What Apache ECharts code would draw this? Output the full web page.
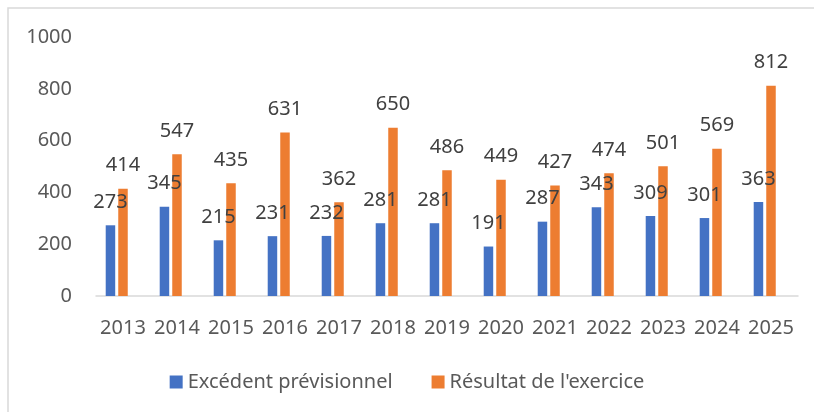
<!DOCTYPE html>
<html>
<head>
<meta charset="utf-8">
<script src="https://cdn.jsdelivr.net/npm/echarts@6/dist/echarts.min.js"></script>
<style>
  html, body { margin: 0; padding: 0; background: #fff; }
  #chart { width: 814px; height: 412px; }
</style>
</head>
<body>
<div id="chart"></div>
<script>
// chart data
const years = ['2013', '2014', '2015', '2016', '2017', '2018', '2019', '2020', '2021', '2022', '2023', '2024', '2025']
const excedentPrev = [273, 345, 215, 231, 232, 281, 281, 191, 287, 343, 309, 301, 363]
const resultatExercice = [414, 547, 435, 631, 362, 650, 486, 449, 427, 474, 501, 569, 812]
const yTicks = [0, 200, 400, 600, 800, 1000]

const fontFamily = '"Noto Sans", sans-serif'

const chart = echarts.init(document.getElementById('chart'))

const labelStyle = {
  show: true,
  position: 'top',
  distance: 13,
  color: '#404040',
  fontSize: 20,
  fontFamily: fontFamily
}

chart.setOption({
  animation: false,
  graphic: [{
    type: 'rect',
    shape: { x: 8, y: 8, width: 840, height: 440 },
    style: { fill: 'none', stroke: '#d9d9d9', lineWidth: 1.5 },
    silent: true
  }],
  legend: {
    data: ['Excédent prévisionnel', "Résultat de l'exercice"],
    bottom: 15,
    left: 'center',
    itemWidth: 13,
    itemHeight: 13,
    itemGap: 39,
    icon: 'rect',
    textStyle: { color: '#595959', fontSize: 20, fontFamily: fontFamily }
  },
  grid: {
    left: 96,
    right: 16,
    top: 37,
    bottom: 116,
    containLabel: false
  },
  xAxis: {
    type: 'category',
    data: years,
    axisLine: { lineStyle: { color: '#d9d9d9', width: 1.5 } },
    axisTick: { show: false },
    axisLabel: { interval: 0, color: '#595959', fontSize: 20, fontFamily: fontFamily, margin: 22 }
  },
  yAxis: {
    type: 'value',
    min: yTicks[0],
    max: yTicks[yTicks.length - 1],
    interval: 200,
    splitLine: { show: false },
    axisLine: { show: false },
    axisTick: { show: false },
    axisLabel: {
      color: '#595959',
      fontSize: 20,
      fontFamily: fontFamily,
      margin: 24,
      formatter: v => String(v)
    }
  },
  series: [
    {
      name: 'Excédent prévisionnel',
      type: 'bar',
      barWidth: 9.5,
      barGap: '32%',
      itemStyle: { color: '#4472C4' },
      label: labelStyle,
      data: excedentPrev
    },
    {
      name: "Résultat de l'exercice",
      type: 'bar',
      barWidth: 9.5,
      barGap: '32%',
      itemStyle: { color: '#ED7D31' },
      label: labelStyle,
      data: resultatExercice
    },
    {
      // empty slot, keeps the orange bar on the category centre like the original
      name: 'vide',
      type: 'bar',
      barWidth: 9.5,
      barGap: '32%',
      data: []
    }
  ]
})
</script>
</body>
</html>
